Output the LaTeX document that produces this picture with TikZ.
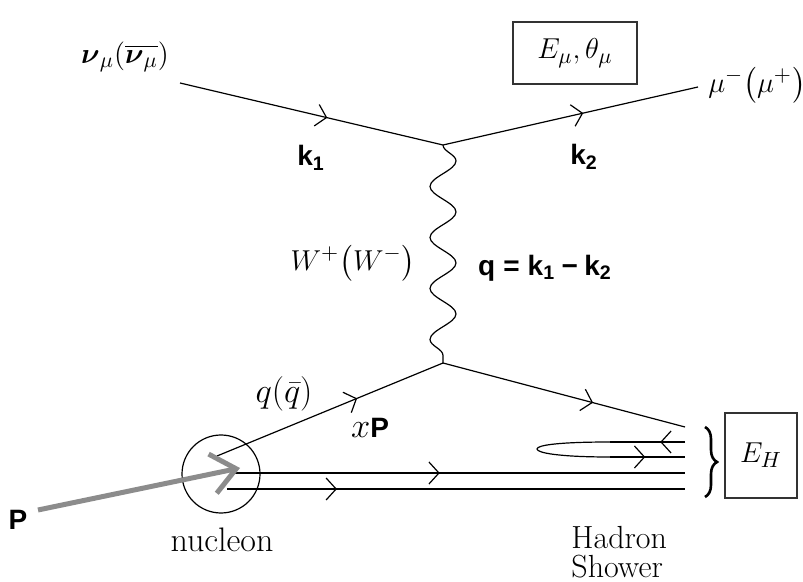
\documentclass[tikz,border=0pt]{standalone}
\usepackage{amsmath,amssymb}
\usepackage{fontspec}
\newfontfamily\lsans{Liberation Sans}
\usepackage{tikz}
\usetikzlibrary{arrows.meta,decorations.markings,decorations.pathmorphing,decorations.pathreplacing}
\definecolor{pgray}{HTML}{8C8C8C}
\newcommand{\bsf}[1]{\text{\lsans\bfseries #1}}
\tikzset{
  fline/.style={line width=0.6pt,draw=black},
  farr/.style={postaction={decorate},decoration={markings,mark=at position #1 with {\arrow{Straight Barb[length=5pt,width=11pt]}}}},
  boson/.style={line width=0.6pt,decorate,decoration={snake,amplitude=6.5pt,segment length=25.5pt}},
  parr/.style={-{Straight Barb[length=12pt,width=20pt]},line width=2.5pt,draw=pgray},
  brc/.style={decorate,decoration={brace,amplitude=6pt},line width=1.3pt},
  ebox/.style={draw=black!80,line width=0.6pt,inner sep=0pt,font=\fontsize{15}{17}\selectfont},
  mlbl/.style={font=\fontsize{15}{17}\selectfont},
  slbl/.style={font=\fontsize{14}{16}\selectfont},
  tlbl/.style={font=\fontsize{16}{18}\selectfont,inner sep=0pt},
}
\begin{document}
\begin{tikzpicture}[x=0.5pt,y=-0.5pt]
\useasboundingbox (0,0) rectangle (803,582);
\coordinate (nuin) at (180,83);
\coordinate (vtop) at (443,145);
\coordinate (muout) at (698,87);
\coordinate (vbot) at (443,363);
\coordinate (qin) at (217,456);
\coordinate (qout) at (685,427);
\coordinate (spa) at (235,473);
\coordinate (spae) at (685,473);
\coordinate (spb) at (227,489);
\coordinate (spbe) at (685,489);
\coordinate (lpa) at (685,442);
\coordinate (lpb) at (610,442);
\coordinate (lptip) at (537,449);
\coordinate (lpc) at (610,457);
\coordinate (lpd) at (685,457);
\coordinate (brtop) at (705,427);
\coordinate (brbot) at (705,497);
\coordinate (pstart) at (38,510);
\coordinate (ptip) at (240,468);

\draw[fline,farr=0.56] (nuin) -- (vtop);
\draw[fline,farr=0.55] (vtop) -- (muout);
\draw[boson] (vtop) -- (vbot);
\draw[fline,farr=0.62] (qin) -- (vbot);
\draw[fline,farr=0.62] (vbot) -- (qout);
\draw[fline,farr=0.455] (spa) -- (spae);
\draw[fline,farr=0.24] (spb) -- (spbe);
\draw[fline,farr=0.33] (lpa) -- (lpb);
\draw[fline] (lpb) .. controls (560,442) and (537,445) .. (lptip) .. controls (537,453) and (560,457) .. (lpc);
\draw[fline,farr=0.47] (lpc) -- (lpd);
\draw[brc] (brtop) -- (brbot);

\node[draw,circle,minimum size=39pt,inner sep=0pt,line width=0.6pt] (nucleon) at (221,474) {};
\draw[parr] (pstart) -- (ptip);

\node[ebox,minimum width=62pt,minimum height=31pt] (emubox) at (575,53) {$E_\mu,\theta_\mu$};
\node[ebox,minimum width=36pt,minimum height=42.5pt] (ehbox) at (761,455.5) {$E_H$};

\node[mlbl] (nulbl) at (125,57) {$\boldsymbol{\nu}_\mu{\left(\overline{\boldsymbol{\nu}_\mu}\right)}$};
\node[mlbl] (mulbl) at (757,85) {$\mu^-{\left(\mu^+\right)}$};
\node[slbl] (k1lbl) at (311,158) {$\bsf{k}_{\bsf{1}}$};
\node[slbl] (k2lbl) at (584,157) {$\bsf{k}_{\bsf{2}}$};
\node[mlbl] (wlbl) at (353,263) {$W^+{\left(W^-\right)}$};
\node[slbl] (qlbl) at (545,268) {$\bsf{q} \mathrel{\bsf{=}} \bsf{k}_{\bsf{1}} \mathbin{\bsf{−}} \bsf{k}_{\bsf{2}}$};
\node[font=\fontsize{18}{20}\selectfont] (qqlbl) at (284,394) {$q(\bar q)$};
\node[slbl] (xplbl) at (370,428) {{\fontsize{17}{19}\selectfont$x$}\bsf{P}};
\node[slbl] (plbl) at (18,520) {\bsf{P}};
\node[font=\fontsize{17}{19}\selectfont] (nuclbl) at (222,540) {nucleon};
\node[tlbl,anchor=base west] (hadlbl) at (571,548) {Hadron};
\node[tlbl,anchor=base west] (shwlbl) at (571,577) {Shower};
\end{tikzpicture}
\end{document}
